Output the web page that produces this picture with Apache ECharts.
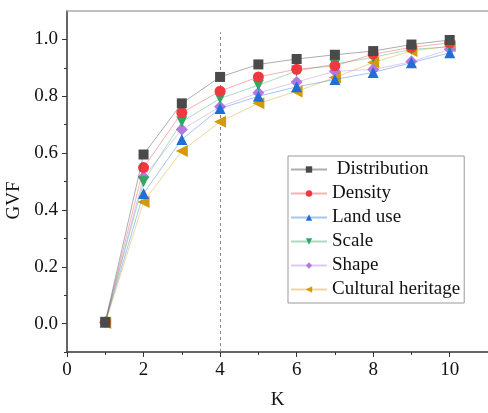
<!DOCTYPE html>
<html>
<head>
<meta charset="utf-8">
<script src="https://cdn.jsdelivr.net/npm/echarts@6/dist/echarts.min.js"></script>
<style>html,body{margin:0;padding:0;background:#fff}#c{width:488px;height:413px}</style>
</head>
<body>
<div id="c"></div>
<script>
const kValues = [1, 2, 3, 4, 5, 6, 7, 8, 9, 10];
const distribution = [0.005, 0.595, 0.775, 0.868, 0.912, 0.931, 0.946, 0.959, 0.982, 0.998];
const density      = [0.005, 0.549, 0.742, 0.818, 0.868, 0.895, 0.907, 0.948, 0.972, 0.988];
const landUse      = [0.005, 0.458, 0.648, 0.757, 0.800, 0.833, 0.859, 0.884, 0.918, 0.953];
const scale        = [0.005, 0.499, 0.710, 0.792, 0.839, 0.889, 0.913, 0.937, 0.965, 0.974];
const shape        = [0.005, 0.516, 0.683, 0.763, 0.812, 0.850, 0.888, 0.894, 0.922, 0.965];
const cultural     = [0.002, 0.428, 0.607, 0.710, 0.775, 0.817, 0.866, 0.919, 0.959, 0.976];
const seriesNames = ['Distribution', 'Density', 'Land use', 'Scale', 'Shape', 'Cultural heritage'];
const yTickLabels = [0.0, 0.2, 0.4, 0.6, 0.8, 1.0];
const yMinorTicks = [-0.1, 0.1, 0.3, 0.5, 0.7, 0.9];
const xTickLabels = [0, 2, 4, 6, 8, 10];
const refK = 4;

const font = "'Liberation Serif','Times New Roman',serif";
const colors = ['#4a4a4a', '#f0393f', '#1f6fd8', '#2ea866', '#b27ae0', '#d49a0a'];
const lineColors = ['rgba(74,74,74,0.45)', 'rgba(240,57,63,0.4)', 'rgba(31,111,216,0.4)', 'rgba(46,168,102,0.4)', 'rgba(178,122,224,0.4)', 'rgba(212,154,10,0.4)'];
const symbols = ['rect', 'circle', 'triangle', 'triangle', 'diamond', 'triangle'];
const rotations = [0, 0, 0, 180, 0, 90];
const sizes = [10, 11, 11, 11, 12, 12];
const allData = [distribution, density, landUse, scale, shape, cultural];

const series = allData.map((vals, i) => ({
  name: seriesNames[i],
  type: 'line',
  data: kValues.map((k, j) => [k, vals[j]]),
  symbol: symbols[i],
  symbolRotate: rotations[i],
  symbolSize: sizes[i],
  showAllSymbol: true,
  itemStyle: { color: colors[i] },
  lineStyle: { color: lineColors[i], width: 1 },
  emphasis: { disabled: true },
  z: 10 - i
}));
series[0].markLine = {
  silent: true,
  symbol: 'none',
  label: { show: false },
  lineStyle: { color: '#888', type: [3, 3], width: 1 },
  data: [[{ coord: [refK, -0.1] }, { coord: [refK, 1.025] }]]
};

const chart = echarts.init(document.getElementById('c'), null, { renderer: 'canvas' });
chart.setOption({
  animation: false,
  backgroundColor: '#fff',
  textStyle: { fontFamily: font },
  grid: { left: 67, right: 0, top: 11, bottom: 61, containLabel: false, outerBoundsMode: 'none' },
  legend: {
    orient: 'vertical',
    left: 288, top: 156,
    padding: [4, 4, 4, 2],
    itemGap: 5,
    itemWidth: 36,
    itemHeight: 8,
    borderColor: '#999',
    borderWidth: 1,
    textStyle: { fontFamily: font, fontSize: 19, color: '#111' },
    formatter: n => n === 'Distribution' ? ' ' + n : n,
    data: seriesNames
  },
  xAxis: [{
    type: 'value', min: 0, max: 11, interval: 2,
    name: 'K', nameLocation: 'middle', nameGap: 39,
    nameTextStyle: { fontFamily: font, fontSize: 19, color: '#111' },
    axisLine: { show: true, onZero: false, lineStyle: { color: '#333', width: 1.5 } },
    axisTick: { show: true, length: 5, lineStyle: { color: '#333' } },
    minorTick: { show: true, splitNumber: 2, length: 3, lineStyle: { color: '#333' } },
    axisLabel: { fontFamily: font, fontSize: 19, color: '#111', margin: 9,
      formatter: v => xTickLabels.includes(v) ? String(v) : '' },
    splitLine: { show: false }
  }, {
    type: 'value', min: 0, max: 11, position: 'top',
    axisLine: { show: true, onZero: false, lineStyle: { color: '#aaa', width: 1.5 } },
    axisTick: { show: false }, axisLabel: { show: false }, splitLine: { show: false }
  }],
  yAxis: [{
    type: 'value', min: -0.1, max: 1.1,
    name: 'GVF', nameLocation: 'middle', nameGap: 42, nameRotate: 90,
    nameTextStyle: { fontFamily: font, fontSize: 19, color: '#111', padding: [0, 38, 0, 0] },
    axisLine: { show: true, onZero: false, lineStyle: { color: '#333', width: 1.5 } },
    axisTick: { show: true, length: 5, customValues: yTickLabels, lineStyle: { color: '#333' } },
    axisLabel: { fontFamily: font, fontSize: 19, color: '#111', margin: 9,
      customValues: yTickLabels, formatter: v => v.toFixed(1) },
    splitLine: { show: false }
  }, {
    type: 'value', min: -0.1, max: 1.1, position: 'left', offset: 0,
    axisLine: { show: false },
    axisTick: { show: true, length: 3, customValues: yMinorTicks, lineStyle: { color: '#333' } },
    axisLabel: { show: false }, splitLine: { show: false }
  }],
  series: series
});
</script>
</body>
</html>
